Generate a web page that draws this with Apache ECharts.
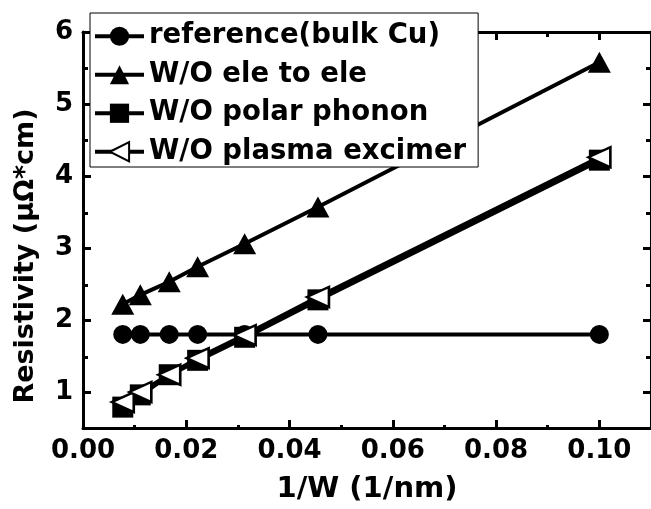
<!DOCTYPE html>
<html><head><meta charset="utf-8">
<script src="https://cdn.jsdelivr.net/npm/echarts@6/dist/echarts.min.js"></script>
<style>html,body{margin:0;padding:0;background:#fff}#c{width:651px;height:509px}</style>
</head><body><div id="c"></div>
<script>
const invW = [0.0077, 0.0111, 0.0167, 0.0222, 0.0313, 0.0455, 0.1];
const refBulkCu = [1.8, 1.8, 1.8, 1.8, 1.8, 1.8, 1.8];
const woEleToEle = [2.22, 2.35, 2.53, 2.74, 3.06, 3.57, 5.58];
const woPolarPhonon = [0.79, 0.96, 1.24, 1.44, 1.76, 2.28, 4.22];
const woPlasmaExcimer = [0.86, 1.0, 1.24, 1.47, 1.79, 2.32, 4.26];
const seriesNames = ['reference(bulk Cu)', 'W/O ele to ele', 'W/O polar phonon', 'W/O plasma excimer'];
const xMajorTicks = [0, 0.02, 0.04, 0.06, 0.08, 0.10];
const xMinorTicks = [0.01, 0.03, 0.05, 0.07, 0.09];
const yMajorTicks = [1, 2, 3, 4, 5, 6];
const yMinorTicks = [1.5, 2.5, 3.5, 4.5, 5.5];

const FONT = 'DejaVu Sans';
const pairs = ys => invW.map((x, i) => [x, ys[i]]);
const lbl = {fontFamily: FONT, fontWeight: 'bold', color: '#000'};

function axis(kind, grid, pos, ticks, len, showLine, labels, extra) {
  const isX = kind === 'x';
  return Object.assign({
    type: 'value', gridIndex: grid, position: pos,
    min: isX ? 0 : 0.5, max: isX ? 0.11 : 6,
    axisLine: {show: showLine, onZero: false, lineStyle: {color: '#000', width: 3}},
    axisTick: {show: true, inside: true, length: len, customValues: ticks, lineStyle: {color: '#000', width: 3}},
    axisLabel: labels ? Object.assign({customValues: ticks, fontSize: 26, margin: 10,
      formatter: v => isX ? v.toFixed(2) : String(v)}, lbl) : {show: false},
    splitLine: {show: false}
  }, extra || {});
}

const chart = echarts.init(document.getElementById('c'));
const gridRect = {left: 83, top: 32, width: 572, height: 398, containLabel: false};
chart.setOption({
  animation: false,
  backgroundColor: '#fff',
  grid: [Object.assign({}, gridRect), Object.assign({}, gridRect)],
  legend: {
    orient: 'vertical', left: 90, top: 13,
    backgroundColor: '#fff', borderColor: '#000', borderWidth: 1,
    padding: [9, 12, 1, 3], itemWidth: 49, itemHeight: 24, itemGap: 10,
    selectedMode: false, data: seriesNames, z: 10,
    lineStyle: {color: '#000', width: 4},
    textStyle: Object.assign({fontSize: 27.5, lineHeight: 28.5}, lbl)
  },
  xAxis: [
    axis('x', 0, 'bottom', xMajorTicks, 8, true, true, {
      name: '1/W (1/nm)', nameLocation: 'middle', nameGap: 47,
      nameTextStyle: Object.assign({fontSize: 29}, lbl)
    }),
    axis('x', 0, 'top', xMajorTicks, 8, true, false),
    axis('x', 1, 'bottom', xMinorTicks, 5, false, false),
    axis('x', 1, 'top', xMinorTicks, 5, false, false)
  ],
  yAxis: [
    axis('y', 0, 'left', yMajorTicks, 8, true, true, {
      name: 'Resistivity (μΩ*cm)', nameLocation: 'middle', nameGap: 44,
      nameTextStyle: Object.assign({fontSize: 27, padding: [0, 52, 0, 0]}, lbl)
    }),
    axis('y', 0, 'right', yMajorTicks, 8, true, false),
    axis('y', 1, 'left', yMinorTicks, 5, false, false),
    axis('y', 1, 'right', yMinorTicks, 5, false, false)
  ],
  series: [
    {name: seriesNames[0], type: 'line', xAxisIndex: 0, yAxisIndex: 0, data: pairs(refBulkCu),
     symbol: 'circle', symbolSize: 19,
     lineStyle: {color: '#000', width: 4}, itemStyle: {color: '#000'}, z: 2},
    {name: seriesNames[1], type: 'line', xAxisIndex: 0, yAxisIndex: 0, data: pairs(woEleToEle),
     symbol: 'triangle', symbolSize: [23, 21],
     lineStyle: {color: '#000', width: 4}, itemStyle: {color: '#000'}, z: 3},
    {name: seriesNames[2], type: 'line', xAxisIndex: 0, yAxisIndex: 0, data: pairs(woPolarPhonon),
     symbol: 'rect', symbolSize: 21,
     lineStyle: {color: '#000', width: 5}, itemStyle: {color: '#000'}, z: 4},
    {name: seriesNames[3], type: 'line', xAxisIndex: 0, yAxisIndex: 0, data: pairs(woPlasmaExcimer),
     symbol: 'triangle', symbolSize: [20, 22], symbolRotate: 90,
     lineStyle: {color: '#000', width: 4}, itemStyle: {color: '#fff', borderColor: '#000', borderWidth: 2.5}, z: 5}
  ]
});
</script></body></html>
